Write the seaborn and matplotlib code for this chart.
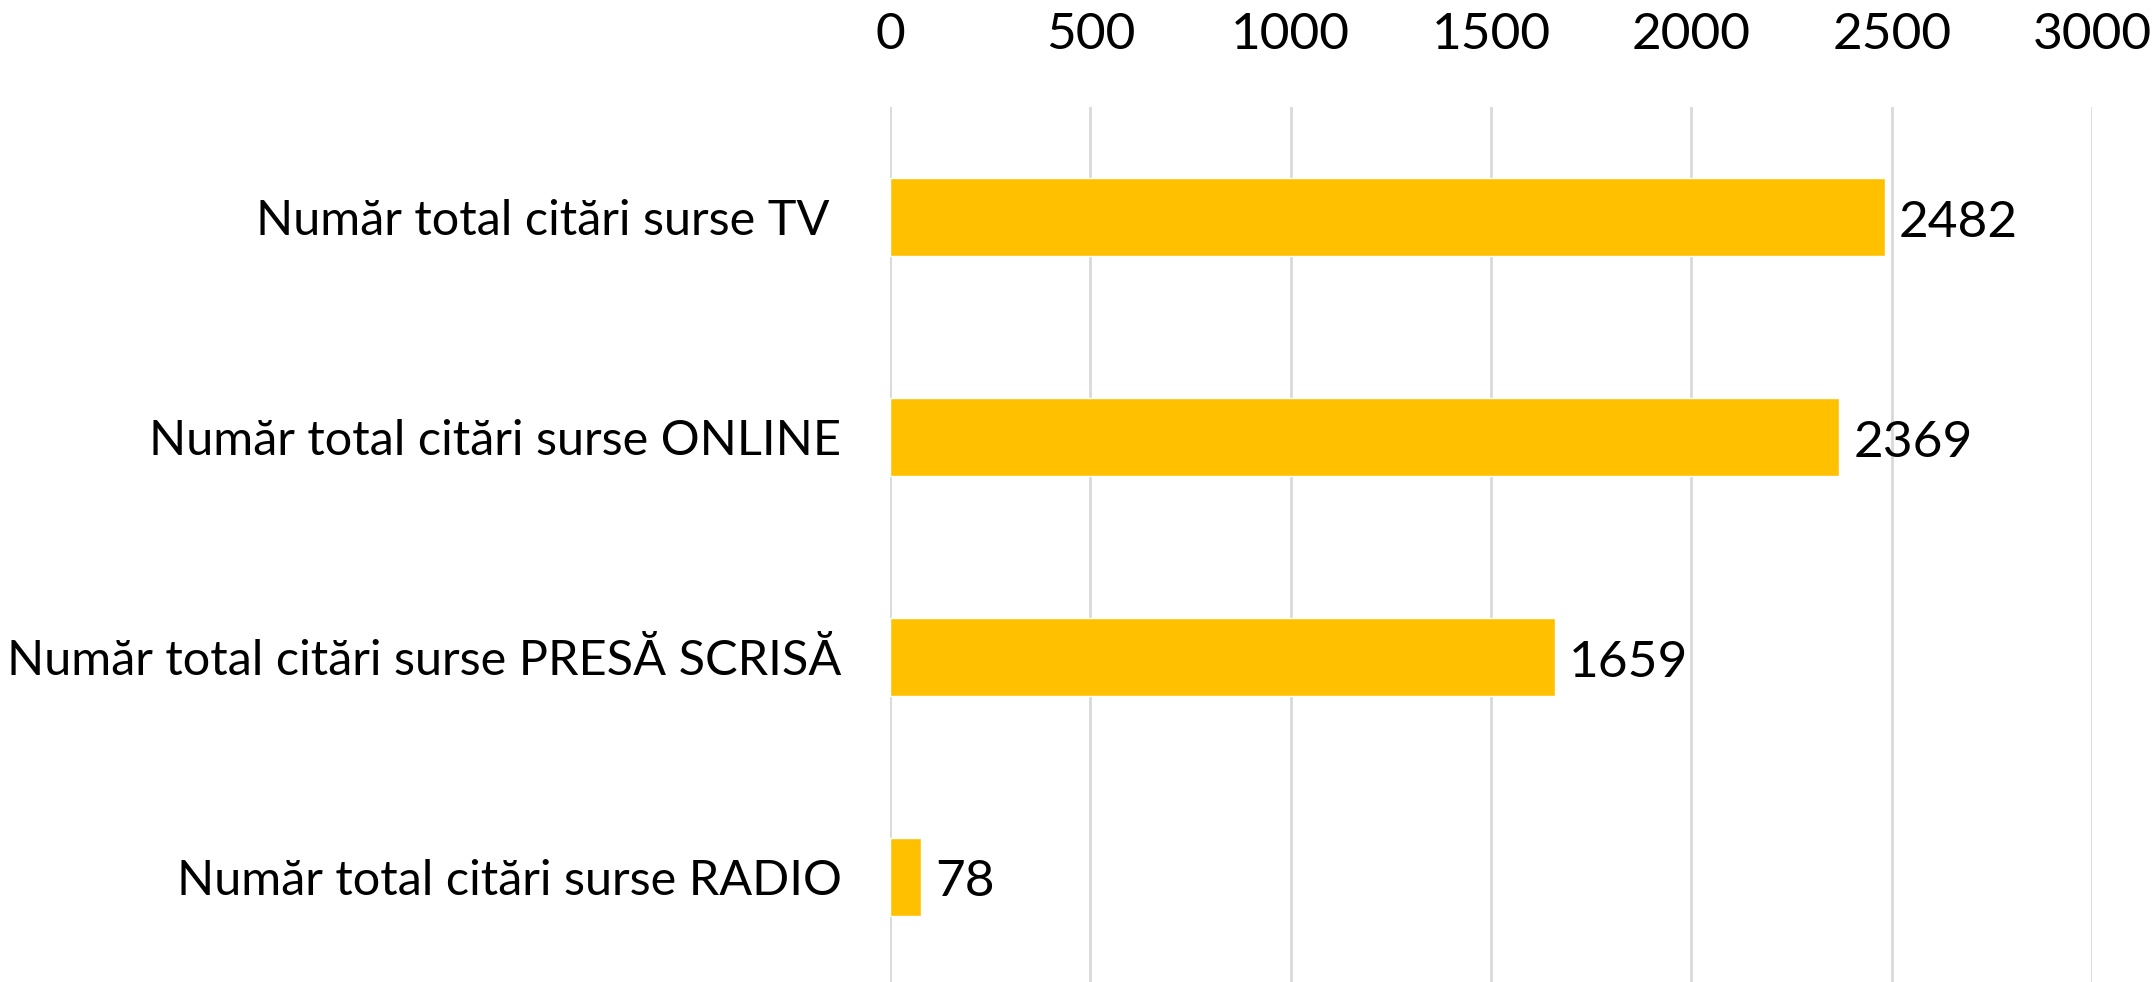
import matplotlib
matplotlib.use("Agg")
import matplotlib.pyplot as plt
import seaborn as sns
import pandas as pd

categories = [
    "Număr total citări surse TV ",
    "Număr total citări surse ONLINE",
    "Număr total citări surse PRESĂ SCRISĂ",
    "Număr total citări surse RADIO",
]
values = [2482, 2369, 1659, 78]
x_ticks = [0, 500, 1000, 1500, 2000, 2500, 3000]

sns.set_theme(style="white")
plt.rcParams["font.family"] = ["Lato", "DejaVu Sans"]

data = pd.DataFrame({"categorie": categories, "valoare": values})

fig = plt.figure(figsize=(21.55, 9.82), dpi=100)
ax = fig.add_axes([0.413, -0.005, 0.5578, 0.896])

sns.barplot(data=data, x="valoare", y="categorie", color="#FFC000",
            saturation=1, width=0.355, ax=ax)

ax.set_xlim(0, 3000)
ax.set_xticks(x_ticks)
ax.xaxis.tick_top()
ax.grid(axis="x", color="#d9d9d9", linewidth=2)
ax.set_axisbelow(True)
for s in ax.spines.values():
    s.set_visible(False)
ax.tick_params(axis="x", length=0, pad=35, labelsize=37, colors="black")
ax.tick_params(axis="y", length=0, pad=35, labelsize=35, colors="black")
ax.set_xlabel("")
ax.set_ylabel("")

for c in ax.containers:
    anns = ax.bar_label(c, labels=[str(v) for v in values], padding=10,
                        fontsize=37, color="black")
    for a in anns:
        a.xyann = (10, -4)

fig.savefig("out.png", dpi=100)
